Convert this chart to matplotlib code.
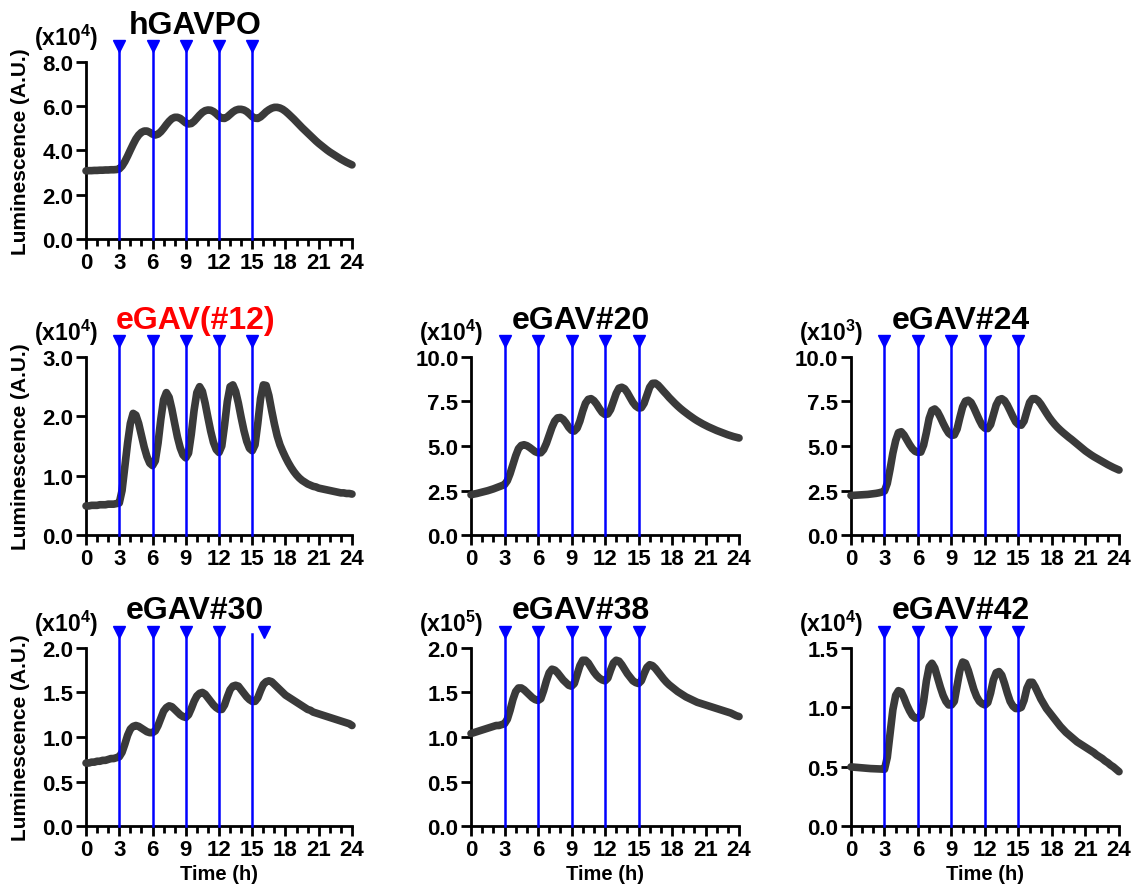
import numpy as np
import matplotlib.pyplot as plt
from matplotlib.ticker import MultipleLocator, FormatStrFormatter

plt.rcParams['font.family'] = ['Liberation Sans', 'DejaVu Sans']
plt.rcParams['font.weight'] = 'bold'
plt.rcParams['mathtext.fontset'] = 'custom'
plt.rcParams['mathtext.rm'] = 'Liberation Sans:bold'
plt.rcParams['mathtext.bf'] = 'Liberation Sans:bold'
plt.rcParams['mathtext.default'] = 'bf'

# time points (h), every 15 min
time_h = np.arange(0, 24.25, 0.25)
light_pulses = [3, 6, 9, 12, 15]

# luminescence, in units of the multiplier shown on each panel
# (one row = 3 h)
hgavpo = [3.08, 3.09, 3.09, 3.10, 3.10, 3.11, 3.11, 3.12, 3.12, 3.13, 3.13, 3.14,
          3.17, 3.30, 3.50, 3.75, 4.02, 4.28, 4.52, 4.70, 4.82, 4.88, 4.88, 4.82,
          4.74, 4.70, 4.74, 4.85, 5.00, 5.17, 5.32, 5.44, 5.50, 5.50, 5.45, 5.35,
          5.25, 5.20, 5.22, 5.32, 5.46, 5.60, 5.72, 5.80, 5.83, 5.82, 5.76, 5.66,
          5.54, 5.46, 5.45, 5.52, 5.63, 5.74, 5.82, 5.86, 5.86, 5.83, 5.76, 5.65,
          5.53, 5.46, 5.45, 5.52, 5.63, 5.75, 5.84, 5.91, 5.95, 5.95, 5.92, 5.86,
          5.77, 5.66, 5.54, 5.42, 5.29, 5.16, 5.03, 4.91, 4.79, 4.67, 4.55, 4.43,
          4.32, 4.22, 4.12, 4.02, 3.93, 3.85, 3.77, 3.69, 3.61, 3.54, 3.47, 3.41,
          3.35]
egav12 = [0.49, 0.49, 0.50, 0.50, 0.50, 0.51, 0.51, 0.51, 0.52, 0.52, 0.52, 0.53,
          0.54, 0.75, 1.15, 1.55, 1.88, 2.05, 2.02, 1.88, 1.68, 1.48, 1.32, 1.21,
          1.17, 1.25, 1.55, 1.95, 2.28, 2.40, 2.32, 2.12, 1.88, 1.65, 1.47, 1.35,
          1.30, 1.38, 1.70, 2.10, 2.40, 2.50, 2.42, 2.22, 1.98, 1.75, 1.56, 1.44,
          1.39, 1.50, 1.85, 2.25, 2.50, 2.53, 2.42, 2.22, 1.98, 1.76, 1.58, 1.46,
          1.42, 1.52, 1.88, 2.30, 2.53, 2.52, 2.35, 2.10, 1.87, 1.67, 1.52, 1.41,
          1.31, 1.22, 1.14, 1.07, 1.01, 0.96, 0.92, 0.89, 0.86, 0.84, 0.82, 0.81,
          0.79, 0.78, 0.77, 0.76, 0.75, 0.74, 0.73, 0.72, 0.71, 0.71, 0.70, 0.70,
          0.69]
egav20 = [2.26, 2.30, 2.33, 2.37, 2.41, 2.45, 2.49, 2.54, 2.59, 2.65, 2.71, 2.77,
          2.83, 3.05, 3.45, 3.95, 4.45, 4.85, 5.03, 5.07, 5.02, 4.92, 4.80, 4.68,
          4.62, 4.62, 4.80, 5.15, 5.60, 6.05, 6.40, 6.58, 6.60, 6.50, 6.30, 6.05,
          5.88, 5.84, 6.00, 6.40, 6.95, 7.40, 7.62, 7.66, 7.55, 7.35, 7.10, 6.88,
          6.77, 6.80, 7.05, 7.50, 7.95, 8.25, 8.30, 8.22, 8.00, 7.72, 7.45, 7.25,
          7.14, 7.15, 7.40, 7.85, 8.30, 8.52, 8.53, 8.42, 8.25, 8.07, 7.90, 7.72,
          7.56, 7.40, 7.25, 7.11, 6.98, 6.86, 6.74, 6.63, 6.52, 6.42, 6.33, 6.24,
          6.16, 6.08, 6.01, 5.94, 5.87, 5.81, 5.75, 5.69, 5.63, 5.58, 5.53, 5.49,
          5.45]
egav24 = [2.22, 2.23, 2.24, 2.25, 2.26, 2.27, 2.28, 2.30, 2.32, 2.34, 2.37, 2.41,
          2.47, 2.90, 3.70, 4.60, 5.30, 5.75, 5.80, 5.62, 5.35, 5.08, 4.85, 4.70,
          4.64, 4.66, 5.05, 5.75, 6.55, 7.00, 7.08, 6.92, 6.62, 6.28, 5.97, 5.72,
          5.60, 5.62, 5.95, 6.60, 7.20, 7.52, 7.57, 7.45, 7.15, 6.80, 6.45, 6.15,
          6.00, 5.98, 6.20, 6.75, 7.30, 7.60, 7.66, 7.55, 7.30, 6.98, 6.65, 6.35,
          6.20, 6.17, 6.40, 6.95, 7.45, 7.66, 7.66, 7.55, 7.35, 7.10, 6.85, 6.61,
          6.40, 6.21, 6.04, 5.89, 5.75, 5.62, 5.49, 5.37, 5.24, 5.11, 4.98, 4.85,
          4.72, 4.61, 4.50, 4.40, 4.31, 4.22, 4.13, 4.04, 3.95, 3.87, 3.79, 3.72,
          3.65]
egav30 = [0.71, 0.71, 0.72, 0.72, 0.73, 0.73, 0.74, 0.74, 0.75, 0.76, 0.76, 0.77,
          0.78, 0.83, 0.92, 1.02, 1.09, 1.12, 1.13, 1.12, 1.10, 1.08, 1.06, 1.05,
          1.05, 1.07, 1.13, 1.21, 1.29, 1.33, 1.35, 1.34, 1.31, 1.28, 1.25, 1.23,
          1.22, 1.25, 1.32, 1.40, 1.46, 1.49, 1.50, 1.48, 1.44, 1.40, 1.36, 1.33,
          1.31, 1.31, 1.36, 1.45, 1.53, 1.57, 1.58, 1.57, 1.53, 1.49, 1.45, 1.42,
          1.40, 1.40, 1.44, 1.52, 1.59, 1.62, 1.63, 1.62, 1.59, 1.56, 1.53, 1.50,
          1.47, 1.45, 1.43, 1.41, 1.39, 1.37, 1.35, 1.33, 1.31, 1.30, 1.28, 1.27,
          1.26, 1.25, 1.24, 1.23, 1.22, 1.21, 1.20, 1.19, 1.18, 1.17, 1.16, 1.15,
          1.13]
egav38 = [1.04, 1.05, 1.06, 1.07, 1.08, 1.09, 1.10, 1.11, 1.12, 1.13, 1.13, 1.14,
          1.15, 1.20, 1.30, 1.42, 1.51, 1.55, 1.55, 1.53, 1.50, 1.47, 1.44, 1.42,
          1.41, 1.43, 1.52, 1.63, 1.72, 1.76, 1.75, 1.72, 1.68, 1.64, 1.61, 1.58,
          1.57, 1.60, 1.70, 1.80, 1.86, 1.86, 1.83, 1.78, 1.73, 1.69, 1.66, 1.64,
          1.63, 1.66, 1.75, 1.83, 1.86, 1.85, 1.81, 1.76, 1.71, 1.67, 1.63, 1.61,
          1.60, 1.63, 1.71, 1.78, 1.81, 1.80, 1.77, 1.73, 1.69, 1.65, 1.615, 1.585,
          1.56, 1.535, 1.51, 1.49, 1.47, 1.45, 1.435, 1.42, 1.405, 1.39, 1.38, 1.37,
          1.36, 1.35, 1.34, 1.33, 1.32, 1.31, 1.30, 1.29, 1.28, 1.27, 1.255, 1.24,
          1.23]
egav42 = [0.50, 0.498, 0.496, 0.494, 0.492, 0.49, 0.488, 0.486, 0.485, 0.484, 0.483, 0.482,
          0.48, 0.58, 0.78, 0.98, 1.10, 1.14, 1.13, 1.08, 1.02, 0.97, 0.93, 0.91,
          0.91, 0.93, 1.05, 1.22, 1.34, 1.37, 1.33, 1.25, 1.17, 1.10, 1.05, 1.02,
          1.02, 1.05, 1.18, 1.31, 1.38, 1.37, 1.31, 1.23, 1.15, 1.09, 1.05, 1.03,
          1.02, 1.04, 1.12, 1.23, 1.29, 1.30, 1.27, 1.20, 1.12, 1.05, 1.01, 0.99,
          0.99, 1.00, 1.06, 1.16, 1.21, 1.21, 1.17, 1.12, 1.07, 1.03, 0.99, 0.96,
          0.93, 0.90, 0.87, 0.84, 0.815, 0.79, 0.77, 0.75, 0.73, 0.71, 0.695, 0.68,
          0.665, 0.65, 0.635, 0.62, 0.60, 0.585, 0.57, 0.55, 0.535, 0.515, 0.50, 0.48,
          0.46]

# name, title colour, data, y max, y step, exponent, marker times, axes rect
panels = [
    ("hGAVPO", "black", hgavpo, 8.0, 2.0, 4, light_pulses,
     [0.0756, 0.7294, 0.2337, 0.1996]),
    ("eGAV(#12)", "#ff0000", egav12, 3.0, 1.0, 4, light_pulses,
     [0.0756, 0.3957, 0.2337, 0.2007]),
    ("eGAV#20", "black", egav20, 10.0, 2.5, 4, light_pulses,
     [0.4139, 0.3957, 0.2355, 0.2007]),
    ("eGAV#24", "black", egav24, 10.0, 2.5, 3, light_pulses,
     [0.7478, 0.3957, 0.2355, 0.2007]),
    ("eGAV#30", "black", egav30, 2.0, 0.5, 4, [3, 6, 9, 12, 16.1],
     [0.0756, 0.0671, 0.2337, 0.2015]),
    ("eGAV#38", "black", egav38, 2.0, 0.5, 5, light_pulses,
     [0.4139, 0.0671, 0.2355, 0.2015]),
    ("eGAV#42", "black", egav42, 1.5, 0.5, 4, light_pulses,
     [0.7478, 0.0671, 0.2355, 0.2015]),
]

fig = plt.figure(figsize=(11.38, 8.87), dpi=100)

for name, tcolor, vals, ymax, ystep, expo, marks, rect in panels:
    ax = fig.add_axes(rect)
    ax.plot(time_h, vals, color="#3a3a3a", lw=5.5, solid_capstyle="round",
            solid_joinstyle="round", clip_on=False, zorder=3)
    for x in light_pulses:
        ax.axvline(x, ymin=0, ymax=1.075, color="#0000ff", lw=1.8,
                   clip_on=False, zorder=4)
    ax.plot(marks, [1.09] * len(marks), "v", color="#0000ff", ms=9,
            transform=ax.get_xaxis_transform(), clip_on=False, zorder=5)

    ax.set_xlim(0, 24)
    ax.set_ylim(0, ymax)
    ax.xaxis.set_major_locator(MultipleLocator(3))
    ax.xaxis.set_minor_locator(MultipleLocator(1))
    ax.yaxis.set_major_locator(MultipleLocator(ystep))
    ax.yaxis.set_major_formatter(FormatStrFormatter("%.1f"))
    for s in ["top", "right"]:
        ax.spines[s].set_visible(False)
    for s in ["left", "bottom"]:
        ax.spines[s].set_linewidth(2)
    ax.tick_params(which="major", length=7, width=2, labelsize=16, pad=2)
    ax.tick_params(which="minor", length=5, width=2)
    for lab in ax.get_xticklabels() + ax.get_yticklabels():
        lab.set_fontweight("bold")

    ax.text(0.41, 1.21, name, transform=ax.transAxes, ha="center",
            va="center", fontsize=23, fontweight="bold", color=tcolor)
    ax.text(-0.195, 1.14, "(x10$^{%d}$)" % expo, transform=ax.transAxes,
            ha="left", va="center", fontsize=16.5, fontweight="bold")

    if rect[0] < 0.1:
        ax.set_ylabel("Luminescence (A.U.)", fontsize=15, fontweight="bold")
        ax.yaxis.set_label_coords(-0.21, 0.50)
    if rect[1] < 0.1:
        ax.set_xlabel("Time (h)", fontsize=14.5, fontweight="bold", labelpad=3)

fig.savefig("out.png", dpi=100, facecolor="white")
